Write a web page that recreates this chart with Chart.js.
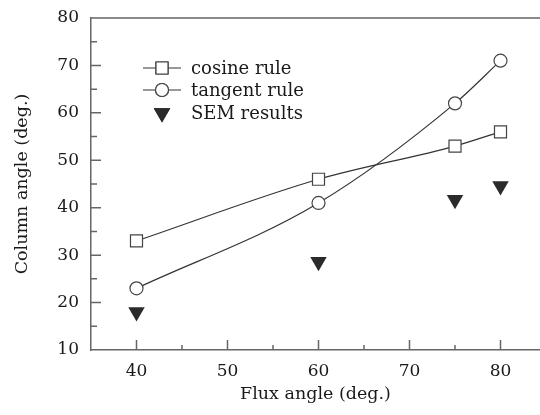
<!DOCTYPE html>
<html>
<head>
<meta charset="utf-8">
<script src="https://cdn.jsdelivr.net/npm/chart.js@4"></script>
<style>
  html, body { margin: 0; padding: 0; background: #fff; overflow: hidden; }
  #wrap { width: 540px; height: 415px; }
</style>
</head>
<body>
<div id="wrap"><canvas id="myChart" width="540" height="415"></canvas></div>
<script>
const fluxAngles = [40, 60, 75, 80];
const cosineRule = [33, 46, 53, 56];
const tangentRule = [23, 41, 62, 71];
const semResults = [18, 28.6, 41.7, 44.6];
const xMajorTicks = [40, 50, 60, 70, 80];
const yMajorTicks = [10, 20, 30, 40, 50, 60, 70, 80];

const serif = 'DejaVu Serif';
const ink = '#333';
const axisColor = '#666';
const textColor = '#1a1a1a';

const toPoints = (ys) => fluxAngles.map((x, i) => ({ x: x, y: ys[i] }));

// inward ticks + top frame line
const frameTicks = {
  id: 'frameTicks',
  afterDraw(chart) {
    const { ctx, chartArea: a, scales: { x, y } } = chart;
    ctx.save();
    ctx.strokeStyle = axisColor;
    ctx.lineWidth = 1.5;
    ctx.beginPath();
    ctx.moveTo(a.left, a.top);
    ctx.lineTo(a.right, a.top);
    for (let v = 35; v <= 85; v += 5) {
      const px = x.getPixelForValue(v);
      if (px <= a.left + 1 || px > a.right) continue;
      const len = v % 10 === 0 ? 10 : 5;
      ctx.moveTo(px, a.bottom);
      ctx.lineTo(px, a.bottom - len);
    }
    for (let v = 15; v < 80; v += 5) {
      const py = y.getPixelForValue(v);
      const len = v % 10 === 0 ? 10 : 6;
      ctx.moveTo(a.left, py);
      ctx.lineTo(a.left + len, py);
    }
    ctx.stroke();
    ctx.restore();
  }
};

// legend drawn inside the plot area
const innerLegend = {
  id: 'innerLegend',
  afterDraw(chart) {
    const { ctx } = chart;
    const x0 = 143, x1 = 181, mx = 162, tx = 191;
    const rows = [68, 90, 113];
    ctx.save();
    ctx.font = '18px "' + serif + '"';
    ctx.textBaseline = 'middle';
    chart.data.datasets.forEach((ds, i) => {
      const yy = rows[i];
      if (ds.showLine !== false) {
        ctx.strokeStyle = ink;
        ctx.lineWidth = 1.2;
        ctx.beginPath();
        ctx.moveTo(x0, yy);
        ctx.lineTo(x1, yy);
        ctx.stroke();
      }
      Chart.helpers.drawPoint(ctx, {
        pointStyle: ds.pointStyle,
        rotation: ds.pointRotation || 0,
        radius: ds.pointRadius,
        borderWidth: ds.pointBorderWidth
      }, mx, yy);
      ctx.fillStyle = ds.pointBackgroundColor;
      ctx.strokeStyle = ds.pointBorderColor;
      ctx.lineWidth = ds.pointBorderWidth;
      ctx.fill();
      if (ds.pointBorderWidth) ctx.stroke();
      ctx.fillStyle = textColor;
      ctx.fillText(ds.label, tx, yy + 1);
    });
    ctx.restore();
  }
};

const data = {
  datasets: [
    {
      label: 'cosine rule',
      data: toPoints(cosineRule),
      borderColor: ink,
      borderWidth: 1.2,
      cubicInterpolationMode: 'monotone',
      pointStyle: 'rect',
      pointRadius: 8.5,
      pointBackgroundColor: '#fff',
      pointBorderColor: '#444',
      pointBorderWidth: 1.2
    },
    {
      label: 'tangent rule',
      data: toPoints(tangentRule),
      borderColor: ink,
      borderWidth: 1.2,
      cubicInterpolationMode: 'monotone',
      pointStyle: 'circle',
      pointRadius: 6.5,
      pointBackgroundColor: '#fff',
      pointBorderColor: '#444',
      pointBorderWidth: 1.2
    },
    {
      label: 'SEM results',
      data: toPoints(semResults),
      showLine: false,
      pointStyle: 'triangle',
      pointRotation: 180,
      pointRadius: 9.5,
      pointBackgroundColor: '#2b2b2b',
      pointBorderColor: '#2b2b2b',
      pointBorderWidth: 0
    }
  ]
};

const config = {
  type: 'line',
  data: data,
  options: {
    responsive: false,
    animation: false,
    layout: { autoPadding: false, padding: { top: 18, right: 0, left: 0, bottom: 0 } },
    plugins: { legend: { display: false }, tooltip: { enabled: false } },
    scales: {
      x: {
        type: 'linear',
        min: 35,
        max: 84.34,
        afterBuildTicks: (s) => { s.ticks = xMajorTicks.map((v) => ({ value: v })); },
        afterFit: (s) => { s.height = 65; s.paddingLeft = 0; s.paddingRight = 0; },
        grid: { display: false, drawTicks: false },
        border: { display: true, color: axisColor, width: 1.5 },
        ticks: { padding: 11, color: textColor, font: { family: serif, size: 17 } },
        title: {
          display: true,
          text: 'Flux angle (deg.)',
          color: textColor,
          font: { family: serif, size: 17.5 },
          padding: { top: 0, bottom: 10 }
        }
      },
      y: {
        type: 'linear',
        min: 10,
        max: 80,
        afterBuildTicks: (s) => { s.ticks = yMajorTicks.map((v) => ({ value: v })); },
        afterFit: (s) => { s.width = 91; s.paddingTop = 0; s.paddingBottom = 0; },
        grid: { display: false, drawTicks: false },
        border: { display: true, color: axisColor, width: 1.5 },
        ticks: { padding: 12, color: textColor, font: { family: serif, size: 17 } },
        title: {
          display: true,
          text: 'Column angle (deg.)',
          color: textColor,
          font: { family: serif, size: 17.5 },
          padding: { top: 12, bottom: 0 }
        }
      }
    }
  },
  plugins: [frameTicks, innerLegend]
};

const myChart = new Chart(document.getElementById('myChart'), config);
</script>
</body>
</html>
